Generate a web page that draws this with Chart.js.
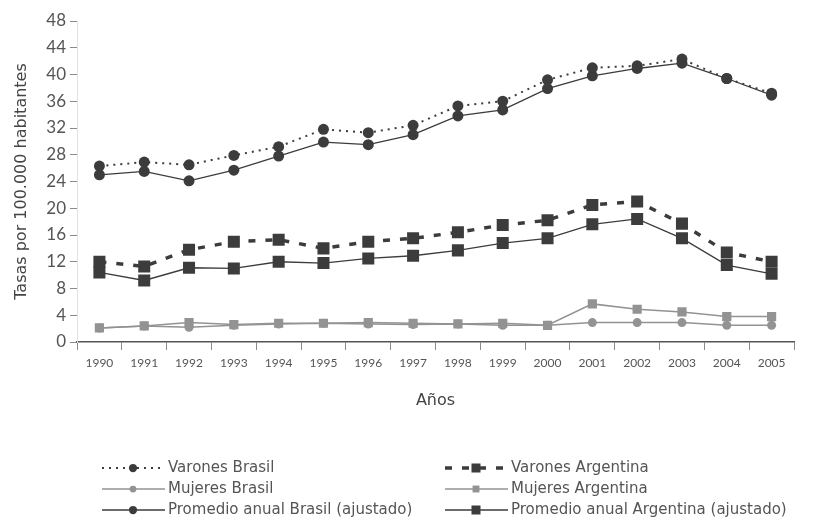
<html>
<head>
<meta charset="utf-8">
<script src="https://cdn.jsdelivr.net/npm/chart.js@4.4.0/dist/chart.umd.min.js"></script>
<style>
  body { margin: 0; background: #fff; }
  #wrap { width: 814px; height: 521px; }
</style>
</head>
<body>
<div id="wrap"><canvas id="tasas"></canvas></div>
<script>
// años y tasas por 100.000 habitantes
const YEARS = ["1990", "1991", "1992", "1993", "1994", "1995", "1996", "1997", "1998", "1999", "2000", "2001", "2002", "2003", "2004", "2005"];
const VARONES_BRASIL = [26.3, 26.9, 26.5, 27.9, 29.2, 31.8, 31.3, 32.4, 35.3, 36.0, 39.2, 41.0, 41.3, 42.3, 39.4, 37.2];
const VARONES_ARGENTINA = [12.0, 11.3, 13.8, 15.0, 15.3, 14.0, 15.0, 15.5, 16.4, 17.5, 18.2, 20.5, 21.0, 17.7, 13.4, 12.0];
const MUJERES_BRASIL = [2.1, 2.4, 2.2, 2.5, 2.7, 2.8, 2.7, 2.6, 2.7, 2.5, 2.5, 2.9, 2.9, 2.9, 2.5, 2.5];
const MUJERES_ARGENTINA = [2.1, 2.4, 2.9, 2.6, 2.8, 2.8, 2.9, 2.8, 2.7, 2.8, 2.5, 5.7, 4.9, 4.5, 3.8, 3.8];
const PROMEDIO_BRASIL = [25.0, 25.5, 24.1, 25.7, 27.8, 29.9, 29.5, 31.0, 33.8, 34.7, 37.9, 39.8, 40.9, 41.7, 39.4, 36.9];
const PROMEDIO_ARGENTINA = [10.4, 9.2, 11.1, 11.0, 12.0, 11.8, 12.5, 12.9, 13.7, 14.8, 15.5, 17.6, 18.4, 15.5, 11.5, 10.2];

const FONT = "Lato, 'DejaVu Sans', sans-serif";
const WIDE = "'DejaVu Sans', sans-serif";
const DARK = "#3c3c3c";
const LIGHT = "#939393";

function serie(label, data, color, style, radius, width, dash) {
    return {
        label: label,
        data: data,
        borderColor: color,
        backgroundColor: color,
        borderWidth: width,
        borderDash: dash,
        pointStyle: style,
        pointRadius: radius,
        pointHoverRadius: radius,
        pointBorderWidth: 0,
        tension: 0
    };
}

// leyenda en dos columnas, linea con el marcador al medio
const leyenda = {
    id: "leyenda",
    afterDraw(chart) {
        const ctx = chart.ctx;
        const cols = [102, 445];
        const rows = [468, 489, 510];
        chart.data.datasets.forEach((ds, i) => {
            const x = cols[i % 2];
            const y = rows[Math.floor(i / 2)];
            ctx.save();
            ctx.strokeStyle = ds.borderColor;
            ctx.lineWidth = ds.borderWidth;
            ctx.setLineDash(ds.borderDash || []);
            ctx.beginPath();
            ctx.moveTo(x, y);
            ctx.lineTo(x + 63, y);
            ctx.stroke();
            ctx.setLineDash([]);
            ctx.fillStyle = ds.backgroundColor;
            Chart.helpers.drawPoint(ctx, {pointStyle: ds.pointStyle, radius: ds.pointRadius * 0.75, borderWidth: 0, rotation: 0}, x + 31, y);
            ctx.fillStyle = "#555";
            ctx.font = "15px " + WIDE;
            ctx.textBaseline = "middle";
            ctx.fillText(ds.label, x + 66, y);
            ctx.restore();
        });
    }
};

new Chart(document.getElementById("tasas"), {
    type: "line",
    data: {
        labels: YEARS,
        datasets: [
            serie("Varones Brasil", VARONES_BRASIL, DARK, "circle", 5.5, 2, [2, 5]),
            serie("Varones Argentina", VARONES_ARGENTINA, DARK, "rect", 8.5, 3.5, [7, 10]),
            serie("Mujeres Brasil", MUJERES_BRASIL, LIGHT, "circle", 4.5, 1.5, []),
            serie("Mujeres Argentina", MUJERES_ARGENTINA, LIGHT, "rect", 6.5, 1.5, []),
            serie("Promedio anual Brasil (ajustado)", PROMEDIO_BRASIL, DARK, "circle", 5.5, 1.3, []),
            serie("Promedio anual Argentina (ajustado)", PROMEDIO_ARGENTINA, DARK, "rect", 8.5, 1.3, [])
        ]
    },
    options: {
        responsive: true,
        maintainAspectRatio: false,
        animation: false,
        layout: { padding: { top: 21, right: 20, bottom: 106, left: 0 } },
        plugins: {
            legend: { display: false },
            tooltip: { enabled: false }
        },
        scales: {
            x: {
                offset: true,
                afterFit: s => { s.height = 73; },
                grid: { drawOnChartArea: false, drawTicks: true, tickLength: 8, color: "#8a8a8a", offset: true },
                border: { display: true, color: "#555", width: 1.5 },
                ticks: { color: "#555", font: { family: FONT, size: 12 }, padding: 6, maxRotation: 0 },
                title: { display: true, text: "Años", color: "#444", font: { family: WIDE, size: 16 }, padding: { top: 0, bottom: 5 } }
            },
            y: {
                min: 0,
                max: 48,
                afterFit: s => { s.width = 77; },
                grid: { drawOnChartArea: false, drawTicks: true, tickLength: 7, color: "#8a8a8a" },
                border: { display: true, color: "#e2e2e2" },
                ticks: { stepSize: 4, color: "#555", font: { family: FONT, size: 17 }, padding: 4 },
                title: { display: true, text: "Tasas por 100.000 habitantes", color: "#444", font: { family: WIDE, size: 16 }, padding: { top: 12, bottom: 0 } }
            }
        }
    },
    plugins: [leyenda]
});
</script>
</body>
</html>
